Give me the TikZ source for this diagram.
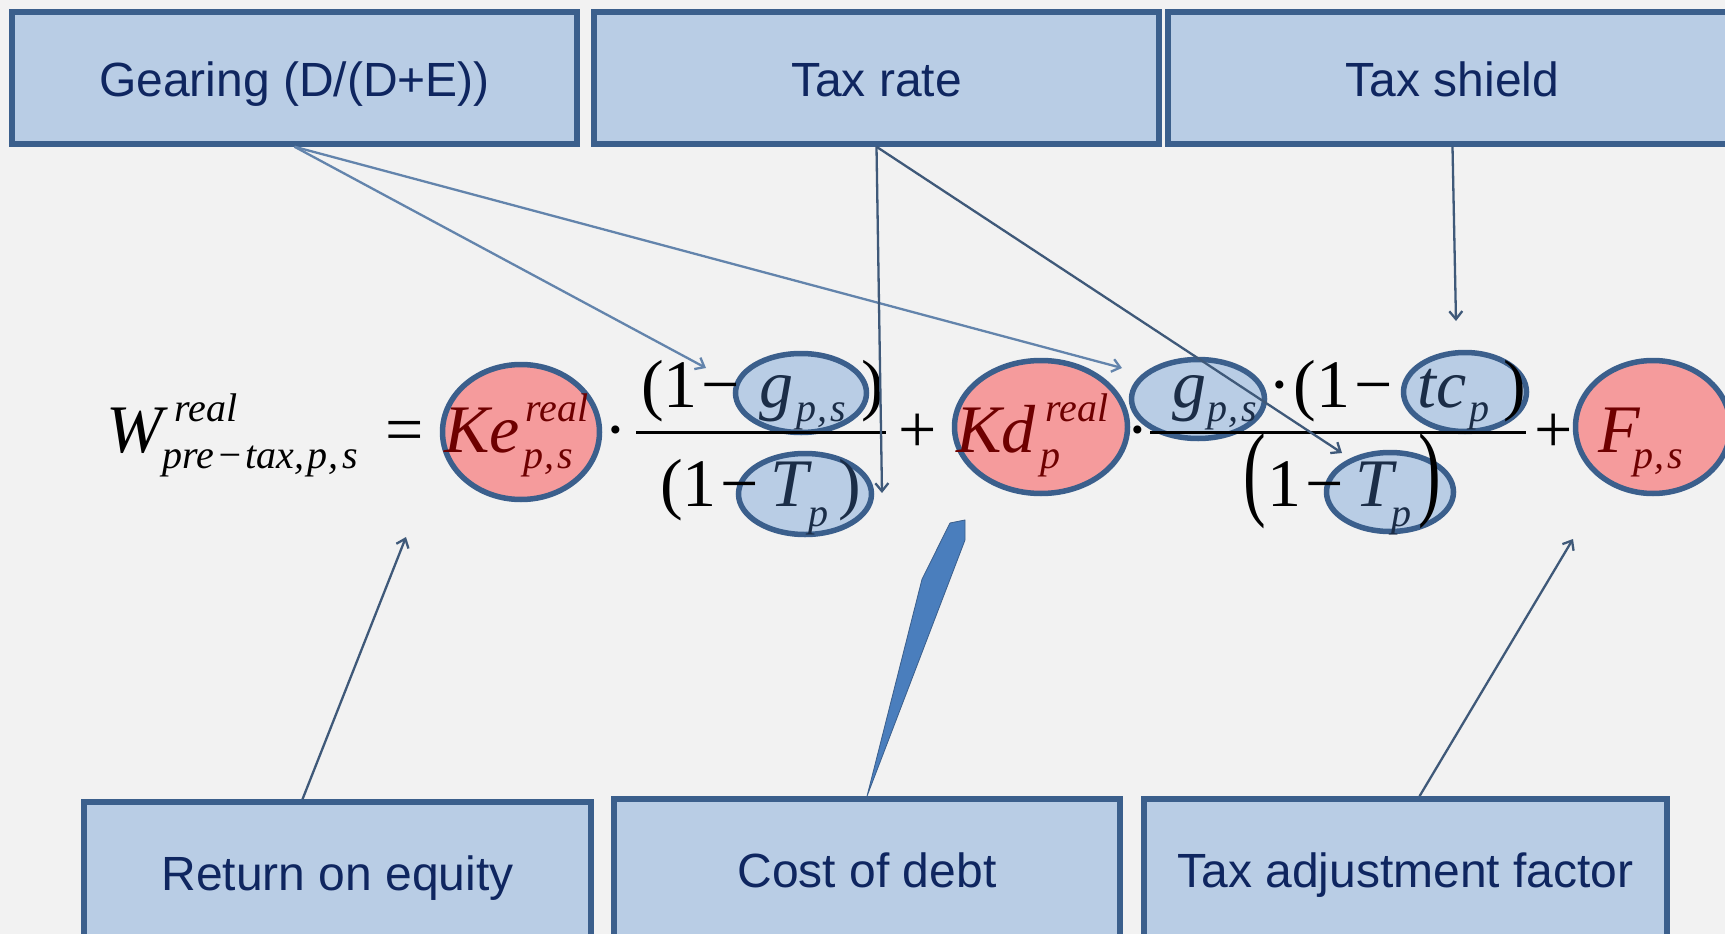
\documentclass[tikz,border=0pt]{standalone}
\usepackage{fontspec}
\usepackage{graphicx}
\setmainfont{Liberation Sans}
\newfontfamily\eqfont{Liberation Serif}
\usetikzlibrary{arrows.meta,shapes.geometric}
\definecolor{paper}{HTML}{F2F2F2}
\definecolor{boxfill}{HTML}{B9CDE5}
\definecolor{boxline}{HTML}{3B5F8C}
\definecolor{boxtext}{HTML}{0F2660}
\definecolor{ovalred}{HTML}{F59B9C}
\definecolor{ovalblue}{HTML}{B9CDE5}
\definecolor{redink}{HTML}{6E0000}
\definecolor{blueink}{HTML}{1B2D47}
\definecolor{linkpale}{HTML}{6384AC}
\definecolor{linkdark}{HTML}{3F5979}
\definecolor{wedgeblue}{HTML}{4A7EBD}
\tikzset{
  >={Straight Barb[length=8pt,width=13pt]},
  labelbox/.style={draw=boxline,fill=boxfill,line width=5.5pt,minimum height=132pt,inner sep=0pt,
    text height=37pt,text depth=0pt,text=boxtext,font=\fontsize{48}{56}\selectfont},
  oval/.style={ellipse,draw=boxline,line width=5.5pt,inner sep=0pt},
  redoval/.style={oval,fill=ovalred},
  blueoval/.style={oval,fill=ovalblue},
  eq/.style={anchor=base west,inner sep=0pt,font=\eqfont\fontsize{68}{68}\selectfont},
  eqit/.style={eq,font=\eqfont\itshape\fontsize{68}{68}\selectfont},
  eqsub/.style={eq,font=\eqfont\itshape\fontsize{40}{40}\selectfont},
  bar/.style={line width=3pt,color=black},
  link/.style={->,line width=2.3pt,color=linkdark},
  palelink/.style={link,color=linkpale},
  wedge/.style={fill=wedgeblue,draw=boxline,line width=.8pt,line join=round},
}

\begin{document}
\begin{tikzpicture}[x=1pt,y=-1pt]
  \useasboundingbox (0,0) rectangle (1725,934);
  \clip (0,0) rectangle (1725,934);
  \fill[paper] (0,0) rectangle (1725,934);

  \node[labelbox,minimum width=565] (gearing) at (294.5,78) {Gearing (D/(D+E))};
  \node[labelbox,minimum width=565] (taxrate) at (876.5,78) {Tax rate};
  \node[labelbox,minimum width=569] (taxshield) at (1452.5,78) {Tax shield};
  \node[labelbox,minimum width=507,minimum height=140] (roe) at (337.5,872) {Return on equity};
  \node[labelbox,minimum width=506,minimum height=140] (costdebt) at (867,869) {Cost of debt};
  \node[labelbox,minimum width=523,minimum height=140] (taxadj) at (1405.5,869) {Tax adjustment factor};

  \node[redoval,minimum width=157,minimum height=135] (ke) at (521,432) {};
  \node[blueoval,minimum width=131,minimum height=79] (gnum) at (801,393) {};
  \node[blueoval,minimum width=133,minimum height=81] (tden) at (805,494) {};
  \node[redoval,minimum width=173,minimum height=133] (kd) at (1041,427) {};
  \node[blueoval,minimum width=133,minimum height=79] (gtwo) at (1198,399) {};
  \node[blueoval,minimum width=123,minimum height=79] (tc) at (1465,392) {};
  \node[blueoval,minimum width=127,minimum height=79] (ttwo) at (1390,492) {};
  \node[redoval,minimum width=155,minimum height=133] (fp) at (1653,427) {};

  \node[eqit] (w) at (106,452) {W};
  \node[eqsub] (wsup) at (174,421) {real};
  \node[eqsub] (wsub) at (162,468) {pre\kern2pt−\kern2pt tax\kern1pt,\kern3pt p\kern1pt,\kern4pt s};
  \node[eq,anchor=base] (eqsign) at (405,452) {=};
  \node[eqit,text=redink] (ketxt) at (444,452) {Ke};
  \node[eqsub,text=redink] (kesup) at (525,421) {real};
  \node[eqsub,text=redink] (kesub) at (523,468) {p\kern1pt,\kern3pt s};
  \node[eq,anchor=base] (dotone) at (616,452) {·};
  \node[eq] (numone) at (641,407) {(1\kern4pt−};
  \node[eqit,text=blueink] (gnumtxt) at (759,407) {g};
  \node[eqsub,text=blueink] (gnumsub) at (796,421) {p\kern1pt,\kern3pt s};
  \node[eq] (numclose) at (861,407) {)};
  \draw[bar] (636,432) -- (886,432);
  \node[eq] (denone) at (660,506) {(1\kern4pt−};
  \node[eqit,text=blueink] (tdentxt) at (770,506) {T};
  \node[eqsub,text=blueink] (tdensub) at (808,526) {p};
  \node[eq,text=blueink] (denclose) at (838,506) {)};
  \node[eq,anchor=base] (plusone) at (918,452) {+};
  \node[eqit,text=redink] (kdtxt) at (956,452) {Kd};
  \node[eqsub,text=redink] (kdsup) at (1045,421) {real};
  \node[eqsub,text=redink] (kdsub) at (1040,468) {p};
  \node[eq,anchor=base] (dottwo) at (1138,452) {·};
  \draw[bar] (1150,432) -- (1526,432);
  \node[eqit,text=blueink] (gtwotxt) at (1172,407) {g};
  \node[eqsub,text=blueink] (gtwosub) at (1207,421) {p\kern1pt,\kern3pt s};
  \node[eq] (numtwo) at (1268,407) {·\kern3pt(1\kern4pt−};
  \node[eqit,text=blueink] (tctxt) at (1417,407) {tc};
  \node[eqsub,text=blueink] (tcsub) at (1469,421) {p};
  \node[eq] (numtwoclose) at (1503,407) {)};
  \node[eq,anchor=center] (bigopen) at (1255,481) {\scalebox{1}[1.55]{(}};
  \node[eq] (dentwo) at (1267,506) {1\kern4pt−};
  \node[eqit,text=blueink] (ttwotxt) at (1355,506) {T};
  \node[eqsub,text=blueink] (ttwosub) at (1391,526) {p};
  \node[eq,anchor=center] (bigclose) at (1430,481) {\scalebox{1}[1.55]{)}};
  \node[eq,anchor=base] (plustwo) at (1554,452) {+};
  \node[eqit,text=redink] (ftxt) at (1598,452) {F};
  \node[eqsub,text=redink] (fsub) at (1633,468) {p\kern1pt,\kern3pt s};

  \coordinate (gnumtip) at (706,368);
  \coordinate (gtwotip) at (1122,368);
  \coordinate (tdentip) at (882,493);
  \coordinate (ttwotip) at (1342,453);
  \coordinate (tctip) at (1456,321);
  \coordinate (ketip) at (406,537);
  \coordinate (kdtip) at (965,520);
  \coordinate (ftip) at (1573,539);

  \draw[palelink] (gearing.south) -- (gnumtip);
  \draw[palelink] (gearing.south) -- (gtwotip);
  \draw[link] (taxrate.south) -- (tdentip);
  \draw[link] (taxrate.south) -- (ttwotip);
  \draw[link] (taxshield.south) -- (tctip);
  \draw[link] ([xshift=-35pt]roe.north) -- (ketip);
  \filldraw[wedge] (costdebt.north) -- ++(55,-217) -- ([shift={(-15,3)}]kdtip) -- (kdtip) -- ([shift={(0,20)}]kdtip) -- cycle;
  \draw[link] ([xshift=14pt]taxadj.north) -- (ftip);
\end{tikzpicture}
\end{document}
